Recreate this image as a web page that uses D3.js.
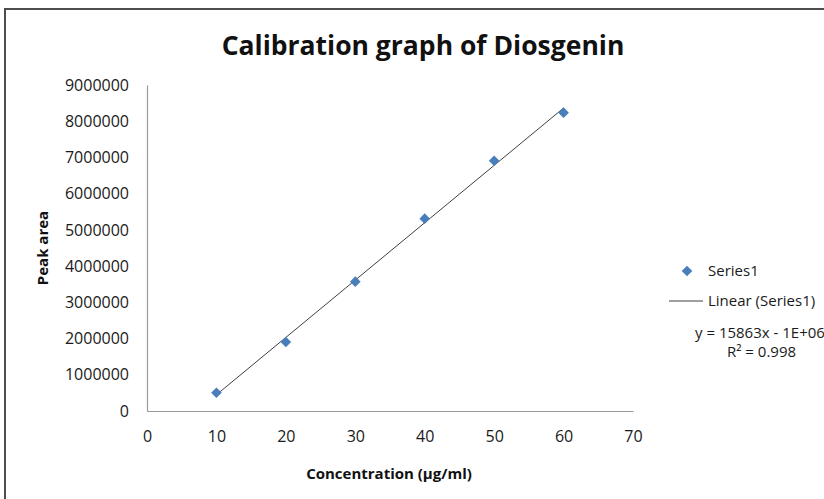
<!DOCTYPE html>
<html>
<head>
<meta charset="utf-8">
<script src="https://cdn.jsdelivr.net/npm/d3@7"></script>
<style>
  body { margin: 0; background: #fff; }
  svg { display: block; font-family: "Open Sans", "Noto Sans", sans-serif; }
</style>
</head>
<body>
<div id="chart"></div>
<script>
// data
const concentrations = [10, 20, 30, 40, 50, 60];
const peakAreas = [505000, 1905000, 3570000, 5310000, 6910000, 8236000];
const xTicks = [0, 10, 20, 30, 40, 50, 60, 70];
const yTicks = [0, 1000000, 2000000, 3000000, 4000000, 5000000, 6000000, 7000000, 8000000, 9000000];
const seriesName = "Series1";
const trendName = "Linear (Series1)";
const equationText = "y = 15863x - 1E+06";
const r2Text = "R² = 0.998";

const W = 824, H = 499;
const margin = { top: 85, right: 191, bottom: 88, left: 147 };

const svg = d3.select("#chart")
  .append("svg")
  .attr("width", W)
  .attr("height", H);

// outer frame (only top and left visible in the crop)
svg.append("path")
  .attr("d", `M5,${H} L5,9 L${W},9`)
  .attr("fill", "none")
  .attr("stroke", "#4d4d4d")
  .attr("stroke-width", 2);

const x = d3.scaleLinear().domain([0, 70]).range([margin.left, W - margin.right]);
const y = d3.scaleLinear().domain([0, 9000000]).range([H - margin.bottom, margin.top]);

// axes
const xAxis = svg.append("g")
  .attr("transform", "translate(0," + y(0) + ")")
  .call(d3.axisBottom(x).tickValues(xTicks).tickSize(0).tickPadding(20).tickFormat(d3.format("d")));
const yAxis = svg.append("g")
  .attr("transform", "translate(" + x(0) + ",0)")
  .call(d3.axisLeft(y).tickValues(yTicks).tickSize(0).tickPadding(18).tickFormat(d3.format("d")));

[xAxis, yAxis].forEach(g => {
  g.select(".domain").attr("stroke", "#9a9a9a").attr("stroke-width", 1.2);
  g.selectAll("text")
    .attr("font-family", "Open Sans, sans-serif")
    .attr("font-size", 16)
    .attr("fill", "#1a1a1a");
});

// linear trendline (least squares on the points)
const mx = d3.mean(concentrations), my = d3.mean(peakAreas);
const sxy = d3.sum(concentrations, (c, i) => (c - mx) * (peakAreas[i] - my));
const sxx = d3.sum(concentrations, c => (c - mx) * (c - mx));
const slope = sxy / sxx, intercept = my - slope * mx;
const xr = d3.extent(concentrations);

svg.append("path")
  .datum(xr)
  .attr("d", d3.line().x(d => x(d)).y(d => y(slope * d + intercept)))
  .attr("fill", "none")
  .attr("stroke", "#3f3f3f")
  .attr("stroke-width", 1);

// markers
const diamond = d3.symbol().type(d3.symbolDiamond2).size(72);
svg.selectAll(".pt")
  .data(concentrations)
  .join("path")
  .attr("class", "pt")
  .attr("transform", (d, i) => "translate(" + x(d) + "," + y(peakAreas[i]) + ")")
  .attr("d", diamond)
  .attr("fill", "#4a7ebb");

// title + axis titles
svg.append("text")
  .attr("x", 423).attr("y", 55)
  .attr("text-anchor", "middle")
  .attr("font-size", 26.5)
  .attr("font-weight", "bold")
  .attr("fill", "#111")
  .text("Calibration graph of Diosgenin");

svg.append("text")
  .attr("x", 389).attr("y", 479)
  .attr("text-anchor", "middle")
  .attr("font-size", 15)
  .attr("font-weight", "bold")
  .attr("fill", "#111")
  .text("Concentration (µg/ml)");

svg.append("text")
  .attr("transform", "translate(48,248) rotate(-90)")
  .attr("text-anchor", "middle")
  .attr("font-size", 15)
  .attr("font-weight", "bold")
  .attr("fill", "#111")
  .text("Peak area");

// legend
const lg = svg.append("g");
lg.append("path")
  .attr("transform", "translate(687,271)")
  .attr("d", diamond)
  .attr("fill", "#4a7ebb");
lg.append("text").attr("x", 708).attr("y", 276)
  .attr("font-size", 15).attr("fill", "#1a1a1a").text(seriesName);
lg.append("line")
  .attr("x1", 669).attr("x2", 703).attr("y1", 301).attr("y2", 301)
  .attr("stroke", "#3f3f3f").attr("stroke-width", 1);
lg.append("text").attr("x", 708).attr("y", 306)
  .attr("font-size", 15).attr("fill", "#1a1a1a").text(trendName);
lg.append("text").attr("x", 695).attr("y", 338)
  .attr("font-size", 15).attr("fill", "#1a1a1a").text(equationText);
lg.append("text").attr("x", 727).attr("y", 357)
  .attr("font-size", 15).attr("fill", "#1a1a1a").text(r2Text);
</script>
</body>
</html>
